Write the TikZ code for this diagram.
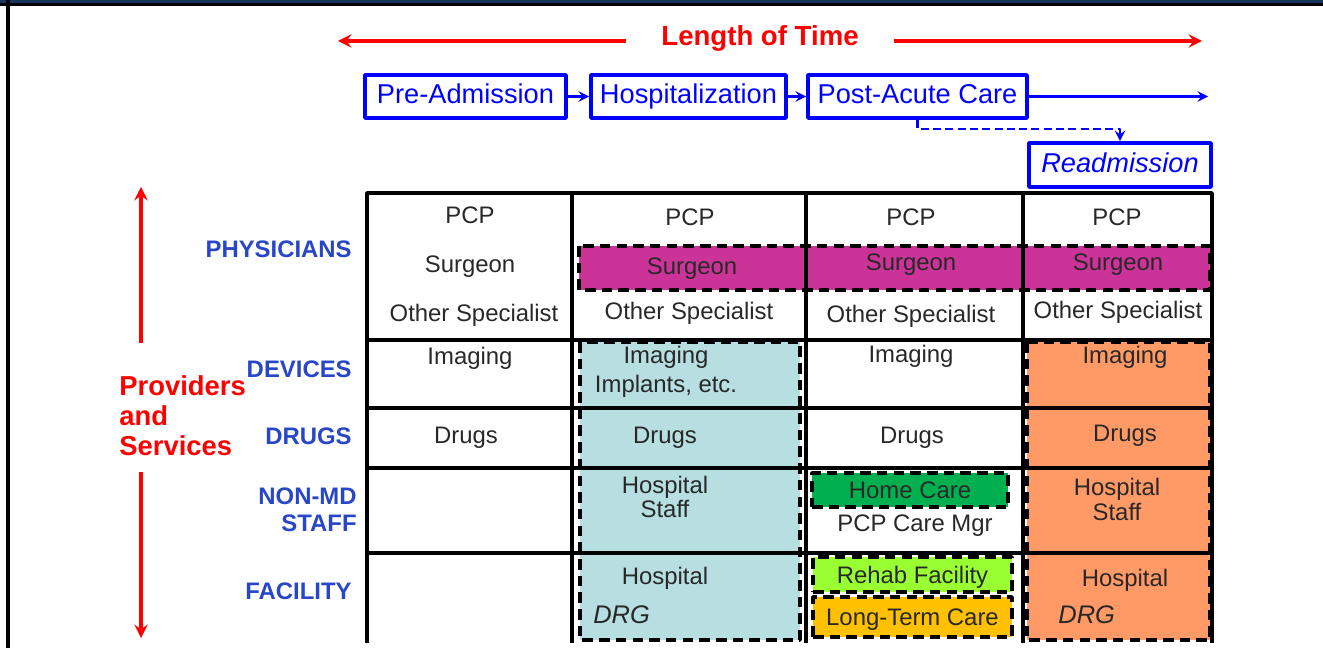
\documentclass[tikz,border=0pt]{standalone}
\usepackage{fontspec}
\setmainfont{Liberation Sans}
\usetikzlibrary{positioning,calc}
\definecolor{flowblue}{RGB}{0,0,255}
\definecolor{rowblue}{RGB}{40,70,200}
\definecolor{surgmag}{RGB}{204,51,153}
\definecolor{hospblue}{RGB}{183,222,224}
\definecolor{readmorange}{RGB}{255,153,102}
\definecolor{homegreen}{RGB}{0,176,80}
\definecolor{rehabgreen}{RGB}{153,255,51}
\definecolor{ltcamber}{RGB}{255,192,0}
\definecolor{framenavy}{RGB}{23,54,93}
\definecolor{celltext}{RGB}{40,40,40}
\begin{document}
\begin{tikzpicture}[x=0.02cm, y=-0.02cm, line join=round, >=stealth,
	stage/.style={draw=flowblue, line width=2.2pt, text=flowblue, font=\fontsize{15.5}{18}\selectfont, minimum height=0.86cm, inner sep=2pt, text height=11.2pt, text depth=3pt},
	flow/.style={->, draw=flowblue, line width=1.6pt},
	redarr/.style={->, draw=red, line width=2.3pt},
	cell/.style={text=celltext, font=\fontsize{13.6}{16}\selectfont, inner sep=0pt, text height=9.7pt, text depth=0pt},
	rowlab/.style={text=rowblue, font=\bfseries\fontsize{13.6}{15.3}\selectfont, align=right, inner sep=0pt, anchor=east},
	tint/.style={draw=black, line width=2.1pt, dash pattern=on 6pt off 3.5pt},
	gridline/.style={line width=2.1pt}]
	\useasboundingbox (0,0) rectangle (1323,648);
	% frame
	\fill[framenavy] (0,0) rectangle (1323,3);
	\draw[line width=1.3pt] (0,4.5) -- (1323,4.5);
	\draw[line width=1.9pt] (8,0) -- (8,648);
	% time axis
	\node[text=red, font=\bfseries\fontsize{15.7}{18}\selectfont, inner xsep=0.7cm, inner ysep=0pt] (lot) at (760,38) {Length of Time};
	\coordinate (tleft) at (338,41);
	\coordinate (tright) at (1202,41);
	\draw[redarr] (lot.west |- tleft) -- (tleft);
	\draw[redarr] (lot.east |- tright) -- (tright);
	% stages
	\node[stage, minimum width=4.02cm] (pre) at (465.5,96.5) {Pre-Admission};
	\node[stage, minimum width=3.9cm] (hosp) at (688.5,96.5) {Hospitalization};
	\node[stage, minimum width=4.38cm] (post) at (917.5,96.5) {Post-Acute Care};
	\node[stage, minimum width=3.64cm, minimum height=0.88cm, font=\itshape\fontsize{15.5}{18}\selectfont] (readm) at (1120,165) {Readmission};
	\coordinate (later) at (1208,96.5);
	\draw[flow] (pre) -- (hosp);
	\draw[flow] (hosp) -- (post);
	\draw[flow] (post) -- (later);
	\draw[flow, dash pattern=on 4.5pt off 2.5pt] (post.south) -- ++(0,9) -| (readm.north);
	% providers axis
	\node[text=red, font=\bfseries\fontsize{15.6}{17}\selectfont, align=left, anchor=west, inner sep=0pt] (prov) at (119,416) {Providers\\and\\Services};
	\coordinate (ptop) at (141,187);
	\coordinate (pbot) at (141,638);
	\draw[redarr] ($(prov.north west)+(22,-33)$) -- (ptop);
	\draw[redarr] ($(prov.south west)+(22,16)$) -- (pbot);
	% shaded cells
	\draw[tint, fill=surgmag] (579,246) rectangle (1210,290);
	\draw[tint, fill=hospblue] (580,342) rectangle (800,640);
	\draw[tint, fill=readmorange] (1027,342) rectangle (1210,640);
	% table
	\draw[gridline] (367,643) -- (367,193) -- (1212,193) -- (1212,643);
	\foreach \x in {572,806,1023}
		\draw[gridline] (\x,193) -- (\x,643);
	\foreach \y in {340,408,468}
		\draw[gridline] (367,\y) -- (1212,\y);
	\draw[gridline, line width=2.6pt] (367,553) -- (1212,553);
	% row labels
	\node[rowlab] (rphys) at (352,249) {PHYSICIANS};
	\node[rowlab] (rdev) at (352,369) {DEVICES};
	\node[rowlab] (rdrug) at (352,436) {DRUGS};
	\node[rowlab] (rstaff) at (357,510) {NON-MD\\STAFF};
	\node[rowlab] (rfac) at (352,591) {FACILITY};
	% pre-admission
	\node[cell] (apcp) at (470,215) {PCP};
	\node[cell] (asurg) at (470,264) {Surgeon};
	\node[cell] (aoth) at (474,313) {Other Specialist};
	\node[cell] (aimg) at (470,356) {Imaging};
	\node[cell] (adrug) at (466,435) {Drugs};
	% hospitalization
	\node[cell] (bpcp) at (690,217) {PCP};
	\node[cell] (bsurg) at (692,266) {Surgeon};
	\node[cell] (both) at (689,311) {Other Specialist};
	\node[cell] (bimg) at (666,355) {Imaging};
	\node[cell] (bimp) at (666,384) {Implants, etc.};
	\node[cell] (bdrug) at (665,435) {Drugs};
	\node[cell] (bhs1) at (665,485) {Hospital};
	\node[cell] (bhs2) at (665,509) {Staff};
	\node[cell] (bhosp) at (665,576) {Hospital};
	\node[cell, anchor=west, font=\itshape\fontsize{14.5}{16}\selectfont] (bdrg) at (593,615) {DRG};
	% post-acute care
	\node[cell] (cpcp) at (911,217) {PCP};
	\node[cell] (csurg) at (911,262) {Surgeon};
	\node[cell] (coth) at (911,314) {Other Specialist};
	\node[cell] (cimg) at (911,354) {Imaging};
	\node[cell] (cdrug) at (912,435) {Drugs};
	\node[cell, tint, fill=homegreen, minimum width=3.92cm, minimum height=0.68cm] (chome) at (910,490) {Home Care};
	\node[cell] (cmgr) at (915,523) {PCP Care Mgr};
	\node[cell, tint, fill=rehabgreen, minimum width=3.98cm, minimum height=0.7cm] (crehab) at (912.5,574.5) {Rehab Facility};
	\node[cell, tint, fill=ltcamber, minimum width=3.98cm, minimum height=0.8cm] (cltc) at (912.5,617) {Long-Term Care};
	% readmission
	\node[cell] (dpcp) at (1117,217) {PCP};
	\node[cell] (dsurg) at (1118,262) {Surgeon};
	\node[cell] (doth) at (1118,310) {Other Specialist};
	\node[cell] (dimg) at (1125,355) {Imaging};
	\node[cell] (ddrug) at (1125,433) {Drugs};
	\node[cell] (dhs1) at (1117,487) {Hospital};
	\node[cell] (dhs2) at (1117,512) {Staff};
	\node[cell] (dhosp) at (1125,578) {Hospital};
	\node[cell, anchor=west, font=\itshape\fontsize{14.5}{16}\selectfont] (ddrg) at (1058,615) {DRG};
\end{tikzpicture}
\end{document}
